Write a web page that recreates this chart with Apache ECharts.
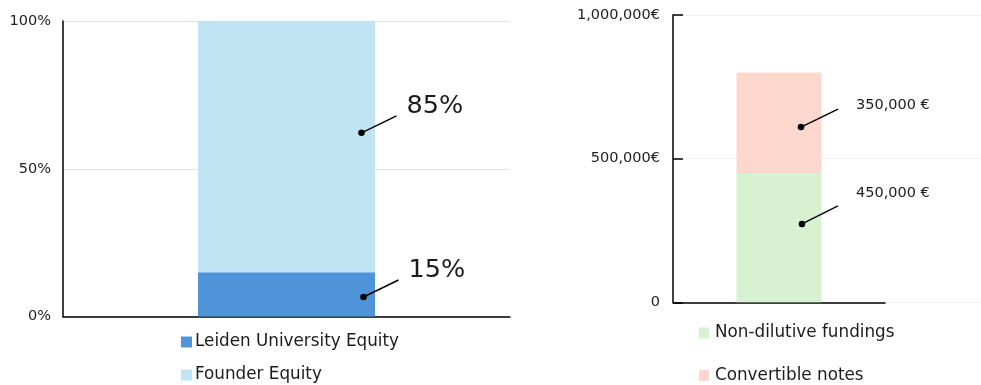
<!DOCTYPE html>
<html>
<head>
<meta charset="utf-8">
<script src="https://cdn.jsdelivr.net/npm/echarts@6/dist/echarts.min.js"></script>
<style>
  html, body { margin: 0; padding: 0; background: #fff; }
  #chart { width: 981px; height: 385px; }
</style>
</head>
<body>
<div id="chart"></div>
<script>
// Equity split (percent)
const equityCategories = [''];
const equityNames = ['Leiden University Equity', 'Founder Equity'];
const leidenEquity = [15];
const founderEquity = [85];
const equityTicks = [0, 50, 100];

// Funding sources (EUR)
const fundingCategories = [''];
const fundingNames = ['Non-dilutive fundings', 'Convertible notes'];
const nonDilutive = [450000];
const convertibleNotes = [350000];
const fundingTicks = [0, 500000, 1000000];

const FONT = '"DejaVu Sans", sans-serif';
const TEXT = '#1c1c1c';

const fmtThousands = v => String(v).replace(/\B(?=(\d{3})+(?!\d))/g, ',');

const chart = echarts.init(document.getElementById('chart'), null, { renderer: 'canvas' });

chart.setOption({
  animation: false,
  textStyle: { fontFamily: FONT },
  grid: [
    { left: 63, top: 21, width: 447, height: 295.5 },
    { left: 673, top: 15, width: 212, height: 287.3 },
    { left: 673, top: 15, width: 308, height: 287.3 }
  ],
  legend: [
    {
      orient: 'vertical', left: 181, top: 333, height: 52, itemGap: 15, padding: 0,
      itemWidth: 11, itemHeight: 11, icon: 'rect',
      data: equityNames,
      textStyle: { fontFamily: FONT, fontSize: 16.8, lineHeight: 18, color: TEXT, padding: [0, 0, 0, -2] }
    },
    {
      orient: 'vertical', left: 699, top: 324, height: 61, itemGap: 24.5, padding: 0,
      itemWidth: 10, itemHeight: 11, icon: 'rect',
      data: fundingNames,
      textStyle: { fontFamily: FONT, fontSize: 16.8, lineHeight: 18, color: TEXT, padding: [0, 0, 0, 1] }
    }
  ],
  xAxis: [
    { type: 'category', gridIndex: 0, data: equityCategories,
      axisLine: { lineStyle: { color: '#000', width: 1.5 } },
      axisTick: { show: false }, axisLabel: { show: false } },
    { type: 'category', gridIndex: 1, data: fundingCategories,
      axisLine: { lineStyle: { color: '#000', width: 1.5 } },
      axisTick: { show: false }, axisLabel: { show: false } },
    { type: 'category', gridIndex: 2, data: fundingCategories, show: false }
  ],
  yAxis: [
    { type: 'value', gridIndex: 0, min: equityTicks[0], max: equityTicks[2],
      interval: equityTicks[1] - equityTicks[0],
      axisLine: { show: true, lineStyle: { color: '#000', width: 1.5 } },
      axisTick: { show: false },
      axisLabel: { margin: 12, fontSize: 14.5, color: '#222', fontFamily: FONT,
        formatter: v => v + '%' },
      splitLine: { lineStyle: { color: '#e3e3e3', width: 1 } } },
    { type: 'value', gridIndex: 1, min: fundingTicks[0], max: fundingTicks[2],
      interval: fundingTicks[1] - fundingTicks[0],
      axisLine: { show: true, lineStyle: { color: '#000', width: 1.5 } },
      axisTick: { show: true, inside: true, length: 10, lineStyle: { color: '#000', width: 1.5 } },
      axisLabel: { margin: 13, fontSize: 14.5, color: '#222', fontFamily: FONT,
        formatter: v => v === 0 ? '0' : fmtThousands(v) + '€' },
      splitLine: { show: false } },
    { type: 'value', gridIndex: 2, min: fundingTicks[0], max: fundingTicks[2],
      interval: fundingTicks[1] - fundingTicks[0],
      axisLine: { show: false }, axisTick: { show: false }, axisLabel: { show: false },
      splitLine: { lineStyle: { color: '#f1f1f1', width: 1 } } }
  ],
  series: [
    { name: equityNames[0], type: 'bar', stack: 'equity', xAxisIndex: 0, yAxisIndex: 0,
      barWidth: 177, data: leidenEquity, itemStyle: { color: '#4f94d8' } },
    { name: equityNames[1], type: 'bar', stack: 'equity', xAxisIndex: 0, yAxisIndex: 0,
      barWidth: 177, data: founderEquity, itemStyle: { color: '#c1e4f4' } },
    { name: fundingNames[0], type: 'bar', stack: 'funding', xAxisIndex: 1, yAxisIndex: 1,
      barWidth: 85, data: nonDilutive, itemStyle: { color: '#d8f1d1' } },
    { name: fundingNames[1], type: 'bar', stack: 'funding', xAxisIndex: 1, yAxisIndex: 1,
      barWidth: 85, data: convertibleNotes, itemStyle: { color: '#fcd7cd' } }
  ]
});

// Callouts: a dot inside each segment, a short leader and the segment's value.
const callouts = [
  { grid: 0, base: 0, values: leidenEquity, frac: 0.44, dotDx: 77, lineEnd: [35, -17], textAt: [45, -27],
    size: 25.5, text: v => v + '%' },
  { grid: 0, base: leidenEquity[0], values: founderEquity, frac: 0.555, dotDx: 75, lineEnd: [35, -17], textAt: [45, -26],
    size: 25.5, text: v => v + '%' },
  { grid: 1, base: 0, values: nonDilutive, frac: 0.606, dotDx: 23, lineEnd: [36, -18], textAt: [54, -31],
    size: 14.5, text: v => fmtThousands(v) + ' €' },
  { grid: 1, base: nonDilutive[0], values: convertibleNotes, frac: 0.457, dotDx: 22, lineEnd: [37, -18], textAt: [55, -22],
    size: 14.5, text: v => fmtThousands(v) + ' €' }
];

const elements = [];
callouts.forEach(c => {
  const v = c.values[0];
  const p = chart.convertToPixel({ gridIndex: c.grid }, [0, c.base + v * c.frac]);
  const x = p[0] + c.dotDx, y = p[1];
  elements.push({
    type: 'line', silent: true, z: 100,
    shape: { x1: x, y1: y, x2: x + c.lineEnd[0], y2: y + c.lineEnd[1] },
    style: { stroke: '#000', lineWidth: 1.4 }
  });
  elements.push({
    type: 'circle', silent: true, z: 101,
    shape: { cx: x, cy: y, r: 3.3 },
    style: { fill: '#000' }
  });
  elements.push({
    type: 'text', silent: true, z: 100,
    x: x + c.textAt[0], y: y + c.textAt[1],
    style: { text: c.text(v), fill: TEXT, font: c.size + 'px ' + FONT,
      textAlign: 'left', textVerticalAlign: 'middle' }
  });
});
chart.setOption({ graphic: elements });
</script>
</body>
</html>
